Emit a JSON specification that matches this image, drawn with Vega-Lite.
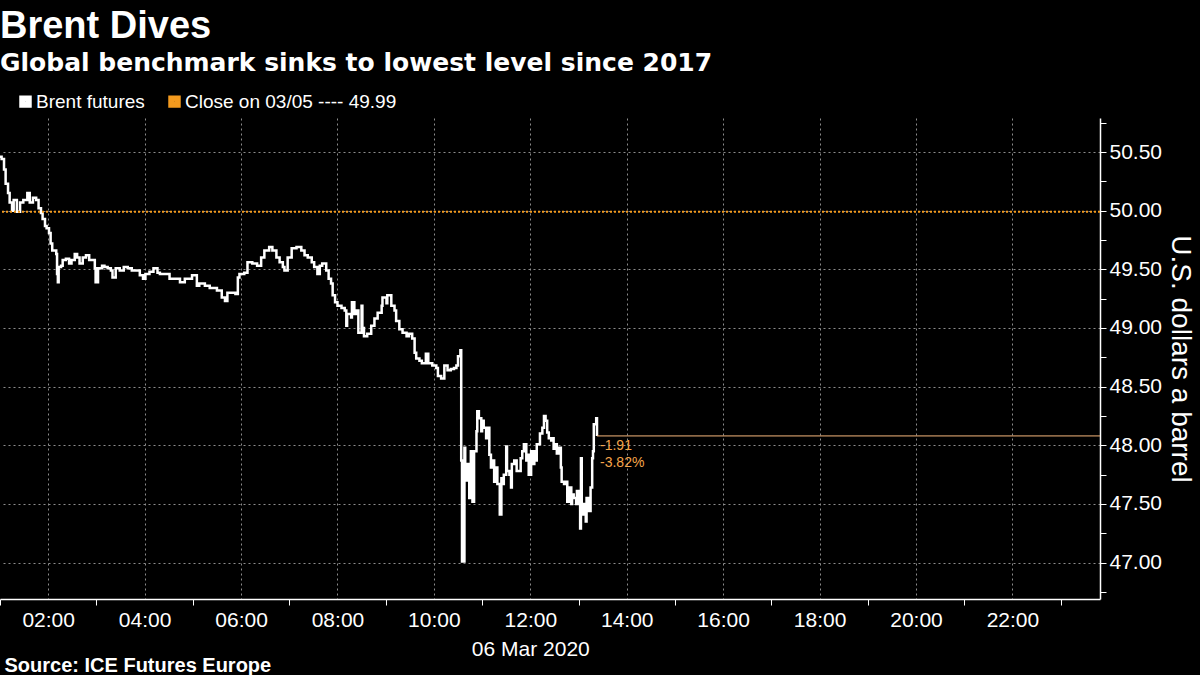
{
  "$schema": "https://vega.github.io/schema/vega-lite/v6.json",
  "width": 1100,
  "height": 481,
  "autosize": {"type": "none"},
  "padding": {"left": 0, "top": 118, "right": 100, "bottom": 76},
  "background": "#000000",
  "title": {
    "text": "Brent Dives",
    "subtitle": "Global benchmark sinks to lowest level since 2017",
    "anchor": "start",
    "frame": "group",
    "color": "#ffffff",
    "subtitleColor": "#ffffff",
    "font": "Liberation Sans",
    "subtitleFont": "DejaVu Sans",
    "fontSize": 38,
    "subtitleFontSize": 25,
    "fontWeight": "bold",
    "subtitleFontWeight": "bold",
    "offset": 0,
    "subtitlePadding": 5
  },
  "config": {"view": {"stroke": null}, "font": "Liberation Sans"},
  "datasets": {
    "brent": [
      {"t": "2020-03-06T01:00", "p": 50.46},
      {"t": "2020-03-06T01:02", "p": 50.44},
      {"t": "2020-03-06T01:05", "p": 50.35},
      {"t": "2020-03-06T01:07", "p": 50.23},
      {"t": "2020-03-06T01:10", "p": 50.15},
      {"t": "2020-03-06T01:12", "p": 50.07},
      {"t": "2020-03-06T01:15", "p": 50.00},
      {"t": "2020-03-06T01:17", "p": 50.09},
      {"t": "2020-03-06T01:21", "p": 49.99},
      {"t": "2020-03-06T01:25", "p": 50.07},
      {"t": "2020-03-06T01:29", "p": 50.09},
      {"t": "2020-03-06T01:34", "p": 50.15},
      {"t": "2020-03-06T01:37", "p": 50.07},
      {"t": "2020-03-06T01:41", "p": 50.11},
      {"t": "2020-03-06T01:45", "p": 50.09},
      {"t": "2020-03-06T01:48", "p": 50.02},
      {"t": "2020-03-06T01:51", "p": 49.98},
      {"t": "2020-03-06T01:53", "p": 49.93},
      {"t": "2020-03-06T01:56", "p": 49.87},
      {"t": "2020-03-06T01:58", "p": 49.85},
      {"t": "2020-03-06T02:01", "p": 49.81},
      {"t": "2020-03-06T02:03", "p": 49.72},
      {"t": "2020-03-06T02:05", "p": 49.66},
      {"t": "2020-03-06T02:07", "p": 49.66},
      {"t": "2020-03-06T02:10", "p": 49.63},
      {"t": "2020-03-06T02:11", "p": 49.46},
      {"t": "2020-03-06T02:12", "p": 49.39},
      {"t": "2020-03-06T02:13", "p": 49.52},
      {"t": "2020-03-06T02:16", "p": 49.53},
      {"t": "2020-03-06T02:18", "p": 49.58},
      {"t": "2020-03-06T02:22", "p": 49.59},
      {"t": "2020-03-06T02:26", "p": 49.55},
      {"t": "2020-03-06T02:29", "p": 49.58},
      {"t": "2020-03-06T02:33", "p": 49.63},
      {"t": "2020-03-06T02:36", "p": 49.60},
      {"t": "2020-03-06T02:39", "p": 49.55},
      {"t": "2020-03-06T02:43", "p": 49.60},
      {"t": "2020-03-06T02:47", "p": 49.62},
      {"t": "2020-03-06T02:51", "p": 49.58},
      {"t": "2020-03-06T02:54", "p": 49.58},
      {"t": "2020-03-06T02:58", "p": 49.51},
      {"t": "2020-03-06T02:59", "p": 49.39},
      {"t": "2020-03-06T03:02", "p": 49.51},
      {"t": "2020-03-06T03:07", "p": 49.53},
      {"t": "2020-03-06T03:10", "p": 49.52},
      {"t": "2020-03-06T03:14", "p": 49.51},
      {"t": "2020-03-06T03:18", "p": 49.49},
      {"t": "2020-03-06T03:20", "p": 49.43},
      {"t": "2020-03-06T03:24", "p": 49.51},
      {"t": "2020-03-06T03:29", "p": 49.49},
      {"t": "2020-03-06T03:34", "p": 49.52},
      {"t": "2020-03-06T03:39", "p": 49.51},
      {"t": "2020-03-06T03:44", "p": 49.49},
      {"t": "2020-03-06T03:49", "p": 49.49},
      {"t": "2020-03-06T03:54", "p": 49.45},
      {"t": "2020-03-06T03:58", "p": 49.42},
      {"t": "2020-03-06T04:01", "p": 49.46},
      {"t": "2020-03-06T04:06", "p": 49.48},
      {"t": "2020-03-06T04:11", "p": 49.51},
      {"t": "2020-03-06T04:16", "p": 49.47},
      {"t": "2020-03-06T04:19", "p": 49.46},
      {"t": "2020-03-06T04:25", "p": 49.46},
      {"t": "2020-03-06T04:31", "p": 49.42},
      {"t": "2020-03-06T04:37", "p": 49.42},
      {"t": "2020-03-06T04:44", "p": 49.39},
      {"t": "2020-03-06T04:50", "p": 49.42},
      {"t": "2020-03-06T04:59", "p": 49.45},
      {"t": "2020-03-06T05:05", "p": 49.36},
      {"t": "2020-03-06T05:08", "p": 49.38},
      {"t": "2020-03-06T05:15", "p": 49.36},
      {"t": "2020-03-06T05:21", "p": 49.34},
      {"t": "2020-03-06T05:30", "p": 49.32},
      {"t": "2020-03-06T05:36", "p": 49.26},
      {"t": "2020-03-06T05:40", "p": 49.23},
      {"t": "2020-03-06T05:43", "p": 49.30},
      {"t": "2020-03-06T05:49", "p": 49.30},
      {"t": "2020-03-06T05:53", "p": 49.29},
      {"t": "2020-03-06T05:56", "p": 49.43},
      {"t": "2020-03-06T05:58", "p": 49.46},
      {"t": "2020-03-06T06:04", "p": 49.47},
      {"t": "2020-03-06T06:08", "p": 49.56},
      {"t": "2020-03-06T06:14", "p": 49.55},
      {"t": "2020-03-06T06:20", "p": 49.53},
      {"t": "2020-03-06T06:25", "p": 49.60},
      {"t": "2020-03-06T06:29", "p": 49.66},
      {"t": "2020-03-06T06:35", "p": 49.69},
      {"t": "2020-03-06T06:39", "p": 49.66},
      {"t": "2020-03-06T06:44", "p": 49.60},
      {"t": "2020-03-06T06:48", "p": 49.56},
      {"t": "2020-03-06T06:52", "p": 49.52},
      {"t": "2020-03-06T06:54", "p": 49.49},
      {"t": "2020-03-06T06:58", "p": 49.60},
      {"t": "2020-03-06T07:03", "p": 49.68},
      {"t": "2020-03-06T07:09", "p": 49.69},
      {"t": "2020-03-06T07:15", "p": 49.66},
      {"t": "2020-03-06T07:19", "p": 49.62},
      {"t": "2020-03-06T07:23", "p": 49.60},
      {"t": "2020-03-06T07:28", "p": 49.56},
      {"t": "2020-03-06T07:31", "p": 49.52},
      {"t": "2020-03-06T07:35", "p": 49.46},
      {"t": "2020-03-06T07:38", "p": 49.53},
      {"t": "2020-03-06T07:41", "p": 49.55},
      {"t": "2020-03-06T07:46", "p": 49.49},
      {"t": "2020-03-06T07:49", "p": 49.42},
      {"t": "2020-03-06T07:52", "p": 49.38},
      {"t": "2020-03-06T07:54", "p": 49.28},
      {"t": "2020-03-06T07:57", "p": 49.22},
      {"t": "2020-03-06T08:00", "p": 49.19},
      {"t": "2020-03-06T08:05", "p": 49.17},
      {"t": "2020-03-06T08:09", "p": 49.15},
      {"t": "2020-03-06T08:11", "p": 49.02},
      {"t": "2020-03-06T08:12", "p": 49.12},
      {"t": "2020-03-06T08:17", "p": 49.09},
      {"t": "2020-03-06T08:18", "p": 49.22},
      {"t": "2020-03-06T08:21", "p": 49.12},
      {"t": "2020-03-06T08:23", "p": 49.15},
      {"t": "2020-03-06T08:26", "p": 48.96},
      {"t": "2020-03-06T08:30", "p": 49.19},
      {"t": "2020-03-06T08:31", "p": 49.00},
      {"t": "2020-03-06T08:33", "p": 48.93},
      {"t": "2020-03-06T08:37", "p": 48.95},
      {"t": "2020-03-06T08:42", "p": 49.02},
      {"t": "2020-03-06T08:46", "p": 49.08},
      {"t": "2020-03-06T08:50", "p": 49.13},
      {"t": "2020-03-06T08:55", "p": 49.19},
      {"t": "2020-03-06T08:56", "p": 49.26},
      {"t": "2020-03-06T09:01", "p": 49.21},
      {"t": "2020-03-06T09:02", "p": 49.28},
      {"t": "2020-03-06T09:07", "p": 49.19},
      {"t": "2020-03-06T09:11", "p": 49.15},
      {"t": "2020-03-06T09:13", "p": 49.06},
      {"t": "2020-03-06T09:17", "p": 48.99},
      {"t": "2020-03-06T09:21", "p": 48.96},
      {"t": "2020-03-06T09:26", "p": 48.93},
      {"t": "2020-03-06T09:29", "p": 48.95},
      {"t": "2020-03-06T09:33", "p": 48.91},
      {"t": "2020-03-06T09:36", "p": 48.79},
      {"t": "2020-03-06T09:38", "p": 48.74},
      {"t": "2020-03-06T09:42", "p": 48.72},
      {"t": "2020-03-06T09:45", "p": 48.70},
      {"t": "2020-03-06T09:50", "p": 48.78},
      {"t": "2020-03-06T09:53", "p": 48.70},
      {"t": "2020-03-06T09:58", "p": 48.68},
      {"t": "2020-03-06T10:03", "p": 48.66},
      {"t": "2020-03-06T10:05", "p": 48.59},
      {"t": "2020-03-06T10:09", "p": 48.57},
      {"t": "2020-03-06T10:13", "p": 48.68},
      {"t": "2020-03-06T10:17", "p": 48.64},
      {"t": "2020-03-06T10:21", "p": 48.65},
      {"t": "2020-03-06T10:25", "p": 48.66},
      {"t": "2020-03-06T10:28", "p": 48.68},
      {"t": "2020-03-06T10:30", "p": 48.76},
      {"t": "2020-03-06T10:33", "p": 48.81},
      {"t": "2020-03-06T10:34", "p": 47.87},
      {"t": "2020-03-06T10:35", "p": 47.01},
      {"t": "2020-03-06T10:38", "p": 47.98},
      {"t": "2020-03-06T10:39", "p": 47.70},
      {"t": "2020-03-06T10:41", "p": 47.84},
      {"t": "2020-03-06T10:44", "p": 47.55},
      {"t": "2020-03-06T10:46", "p": 47.95},
      {"t": "2020-03-06T10:48", "p": 47.52},
      {"t": "2020-03-06T10:50", "p": 47.95},
      {"t": "2020-03-06T10:53", "p": 48.12},
      {"t": "2020-03-06T10:54", "p": 48.29},
      {"t": "2020-03-06T10:56", "p": 48.23},
      {"t": "2020-03-06T10:59", "p": 48.12},
      {"t": "2020-03-06T11:00", "p": 48.21},
      {"t": "2020-03-06T11:02", "p": 48.15},
      {"t": "2020-03-06T11:05", "p": 48.06},
      {"t": "2020-03-06T11:06", "p": 48.15},
      {"t": "2020-03-06T11:09", "p": 47.92},
      {"t": "2020-03-06T11:11", "p": 47.81},
      {"t": "2020-03-06T11:12", "p": 47.87},
      {"t": "2020-03-06T11:15", "p": 47.69},
      {"t": "2020-03-06T11:17", "p": 47.81},
      {"t": "2020-03-06T11:19", "p": 47.67},
      {"t": "2020-03-06T11:22", "p": 47.41},
      {"t": "2020-03-06T11:24", "p": 47.72},
      {"t": "2020-03-06T11:25", "p": 47.67},
      {"t": "2020-03-06T11:27", "p": 47.75},
      {"t": "2020-03-06T11:30", "p": 47.99},
      {"t": "2020-03-06T11:31", "p": 47.78},
      {"t": "2020-03-06T11:34", "p": 47.75},
      {"t": "2020-03-06T11:36", "p": 47.64},
      {"t": "2020-03-06T11:37", "p": 47.84},
      {"t": "2020-03-06T11:40", "p": 47.87},
      {"t": "2020-03-06T11:43", "p": 47.78},
      {"t": "2020-03-06T11:48", "p": 47.89},
      {"t": "2020-03-06T11:50", "p": 47.95},
      {"t": "2020-03-06T11:52", "p": 48.01},
      {"t": "2020-03-06T11:55", "p": 47.87},
      {"t": "2020-03-06T11:56", "p": 47.92},
      {"t": "2020-03-06T11:58", "p": 47.75},
      {"t": "2020-03-06T12:01", "p": 47.95},
      {"t": "2020-03-06T12:02", "p": 47.84},
      {"t": "2020-03-06T12:05", "p": 47.95},
      {"t": "2020-03-06T12:07", "p": 47.87},
      {"t": "2020-03-06T12:08", "p": 48.01},
      {"t": "2020-03-06T12:12", "p": 48.10},
      {"t": "2020-03-06T12:15", "p": 48.15},
      {"t": "2020-03-06T12:17", "p": 48.25},
      {"t": "2020-03-06T12:19", "p": 48.21},
      {"t": "2020-03-06T12:21", "p": 48.11},
      {"t": "2020-03-06T12:23", "p": 48.06},
      {"t": "2020-03-06T12:26", "p": 48.04},
      {"t": "2020-03-06T12:27", "p": 48.06},
      {"t": "2020-03-06T12:29", "p": 47.97},
      {"t": "2020-03-06T12:32", "p": 48.01},
      {"t": "2020-03-06T12:33", "p": 47.93},
      {"t": "2020-03-06T12:36", "p": 47.98},
      {"t": "2020-03-06T12:38", "p": 47.81},
      {"t": "2020-03-06T12:39", "p": 47.69},
      {"t": "2020-03-06T12:42", "p": 47.67},
      {"t": "2020-03-06T12:44", "p": 47.69},
      {"t": "2020-03-06T12:46", "p": 47.52},
      {"t": "2020-03-06T12:48", "p": 47.64},
      {"t": "2020-03-06T12:51", "p": 47.50},
      {"t": "2020-03-06T12:52", "p": 47.58},
      {"t": "2020-03-06T12:54", "p": 47.55},
      {"t": "2020-03-06T12:57", "p": 47.50},
      {"t": "2020-03-06T12:58", "p": 47.61},
      {"t": "2020-03-06T13:00", "p": 47.50},
      {"t": "2020-03-06T13:02", "p": 47.29},
      {"t": "2020-03-06T13:03", "p": 47.89},
      {"t": "2020-03-06T13:04", "p": 47.41},
      {"t": "2020-03-06T13:07", "p": 47.50},
      {"t": "2020-03-06T13:09", "p": 47.35},
      {"t": "2020-03-06T13:10", "p": 47.55},
      {"t": "2020-03-06T13:13", "p": 47.44},
      {"t": "2020-03-06T13:15", "p": 47.64},
      {"t": "2020-03-06T13:17", "p": 47.89},
      {"t": "2020-03-06T13:18", "p": 47.95},
      {"t": "2020-03-06T13:19", "p": 48.18},
      {"t": "2020-03-06T13:22", "p": 48.23},
      {"t": "2020-03-06T13:23", "p": 48.08}
    ],
    "close": [
      {"p": 49.99, "s": "Close on 03/05 ---- 49.99"}
    ],
    "last": [
      {"t": "2020-03-06T13:23", "t2": "2020-03-06T23:49", "p": 48.08, "chg": "-1.91", "pct": "-3.82%"}
    ]
  },
  "layer": [
    {
      "data": {"name": "brent"},
      "mark": {"type": "line", "interpolate": "step-after", "strokeWidth": 2.5},
      "encoding": {
        "x": {
          "field": "t",
          "type": "temporal",
          "scale": {"domain": [{"year": 2020, "month": 3, "date": 6, "hours": 1, "minutes": 0}, {"year": 2020, "month": 3, "date": 6, "hours": 23, "minutes": 49}], "nice": false},
          "axis": {
            "orient": "bottom",
            "tickCount": 40,
            "values": [
              {"year": 2020, "month": 3, "date": 6, "hours": 1},
              {"year": 2020, "month": 3, "date": 6, "hours": 2},
              {"year": 2020, "month": 3, "date": 6, "hours": 3},
              {"year": 2020, "month": 3, "date": 6, "hours": 4},
              {"year": 2020, "month": 3, "date": 6, "hours": 5},
              {"year": 2020, "month": 3, "date": 6, "hours": 6},
              {"year": 2020, "month": 3, "date": 6, "hours": 7},
              {"year": 2020, "month": 3, "date": 6, "hours": 8},
              {"year": 2020, "month": 3, "date": 6, "hours": 9},
              {"year": 2020, "month": 3, "date": 6, "hours": 10},
              {"year": 2020, "month": 3, "date": 6, "hours": 11},
              {"year": 2020, "month": 3, "date": 6, "hours": 12},
              {"year": 2020, "month": 3, "date": 6, "hours": 13},
              {"year": 2020, "month": 3, "date": 6, "hours": 14},
              {"year": 2020, "month": 3, "date": 6, "hours": 15},
              {"year": 2020, "month": 3, "date": 6, "hours": 16},
              {"year": 2020, "month": 3, "date": 6, "hours": 17},
              {"year": 2020, "month": 3, "date": 6, "hours": 18},
              {"year": 2020, "month": 3, "date": 6, "hours": 19},
              {"year": 2020, "month": 3, "date": 6, "hours": 20},
              {"year": 2020, "month": 3, "date": 6, "hours": 21},
              {"year": 2020, "month": 3, "date": 6, "hours": 22},
              {"year": 2020, "month": 3, "date": 6, "hours": 23}
            ],
            "labelExpr": "hours(datum.value) == 12 ? ['12:00', '06 Mar 2020'] : (hours(datum.value) % 2 == 0 ? timeFormat(datum.value, '%H:%M') : '')",
            "labelFont": "Liberation Sans",
            "labelFontSize": 21,
            "labelColor": "#ffffff",
            "labelLineHeight": 29,
            "labelPadding": 4,
            "labelOverlap": false,
            "labelFlush": false,
            "tickColor": "#ffffff",
            "tickWidth": 1,
            "tickSize": 6,
            "tickOpacity": {"condition": {"test": "hours(datum.value) % 2 == 1", "value": 1}, "value": 0},
            "grid": true,
            "gridColor": "#8c8c8c",
            "gridDash": [2, 3],
            "gridWidth": 1,
            "gridOpacity": {"condition": {"test": "hours(datum.value) % 2 == 0", "value": 1}, "value": 0},
            "domainColor": "#ffffff",
            "domainWidth": 1.5,
            "title": "Source: ICE Futures Europe",
            "titleFont": "Liberation Sans",
            "titleFontSize": 20,
            "titleFontWeight": "bold",
            "titleColor": "#ffffff",
            "titleAnchor": "start",
            "titleAlign": "left",
            "titleX": 4,
            "titleY": 56
          }
        },
        "y": {
          "field": "p",
          "type": "quantitative",
          "scale": {"domain": [46.69, 50.79], "nice": false, "zero": false},
          "axis": {
            "orient": "right",
            "tickCount": 40,
            "values": [46.75, 47, 47.25, 47.5, 47.75, 48, 48.25, 48.5, 48.75, 49, 49.25, 49.5, 49.75, 50, 50.25, 50.5, 50.75],
            "labelExpr": "abs(datum.value * 2 - round(datum.value * 2)) < 0.01 ? format(datum.value, '.2f') : ''",
            "labelFont": "Liberation Sans",
            "labelFontSize": 21,
            "labelColor": "#ffffff",
            "labelPadding": 3,
            "labelOverlap": false,
            "tickColor": "#ffffff",
            "tickSize": 6,
            "tickWidth": 1,
            "domainColor": "#ffffff",
            "domainWidth": 1.5,
            "grid": true,
            "gridColor": "#8c8c8c",
            "gridDash": [2, 3],
            "gridOpacity": {"condition": {"test": "abs(datum.value * 2 - round(datum.value * 2)) < 0.01", "value": 1}, "value": 0},
            "title": "U.S. dollars a barrel",
            "titleFont": "Liberation Sans",
            "titleFontSize": 28,
            "titleFontWeight": "normal",
            "titleColor": "#ffffff",
            "titlePadding": 4
          }
        },
        "color": {
          "datum": "Brent futures",
          "type": "nominal",
          "scale": {"domain": ["Brent futures", "Close on 03/05 ---- 49.99"], "range": ["#ffffff", "#f39a1e"]},
          "legend": {
            "orient": "none",
            "direction": "horizontal",
            "legendX": 16,
            "legendY": -42,
            "title": null,
            "symbolType": "square",
            "symbolSize": 42,
            "symbolStrokeWidth": 6,
            "labelColor": "#ffffff",
            "labelFont": "Liberation Sans",
            "labelFontSize": 19,
            "labelLimit": 400,
            "labelOffset": 1,
            "columnPadding": 14
          }
        }
      }
    },
    {
      "data": {"name": "close"},
      "mark": {"type": "rule", "strokeWidth": 2, "strokeDash": [2, 2]},
      "encoding": {
        "y": {"field": "p", "type": "quantitative"},
        "color": {"field": "s", "type": "nominal"}
      }
    },
    {
      "data": {"name": "last"},
      "mark": {"type": "rule", "strokeWidth": 1, "color": "#f6b77c"},
      "encoding": {
        "x": {"field": "t", "type": "temporal"},
        "x2": {"field": "t2"},
        "y": {"field": "p", "type": "quantitative"}
      }
    },
    {
      "data": {"name": "last"},
      "mark": {"type": "text", "align": "left", "baseline": "middle", "dx": 3, "dy": 10, "fontSize": 14, "font": "Liberation Sans", "color": "#f5a54a"},
      "encoding": {
        "x": {"field": "t", "type": "temporal"},
        "y": {"field": "p", "type": "quantitative"},
        "text": {"field": "chg"}
      }
    },
    {
      "data": {"name": "last"},
      "mark": {"type": "text", "align": "left", "baseline": "middle", "dx": 3, "dy": 27, "fontSize": 14, "font": "Liberation Sans", "color": "#f5a54a"},
      "encoding": {
        "x": {"field": "t", "type": "temporal"},
        "y": {"field": "p", "type": "quantitative"},
        "text": {"field": "pct"}
      }
    }
  ]
}
